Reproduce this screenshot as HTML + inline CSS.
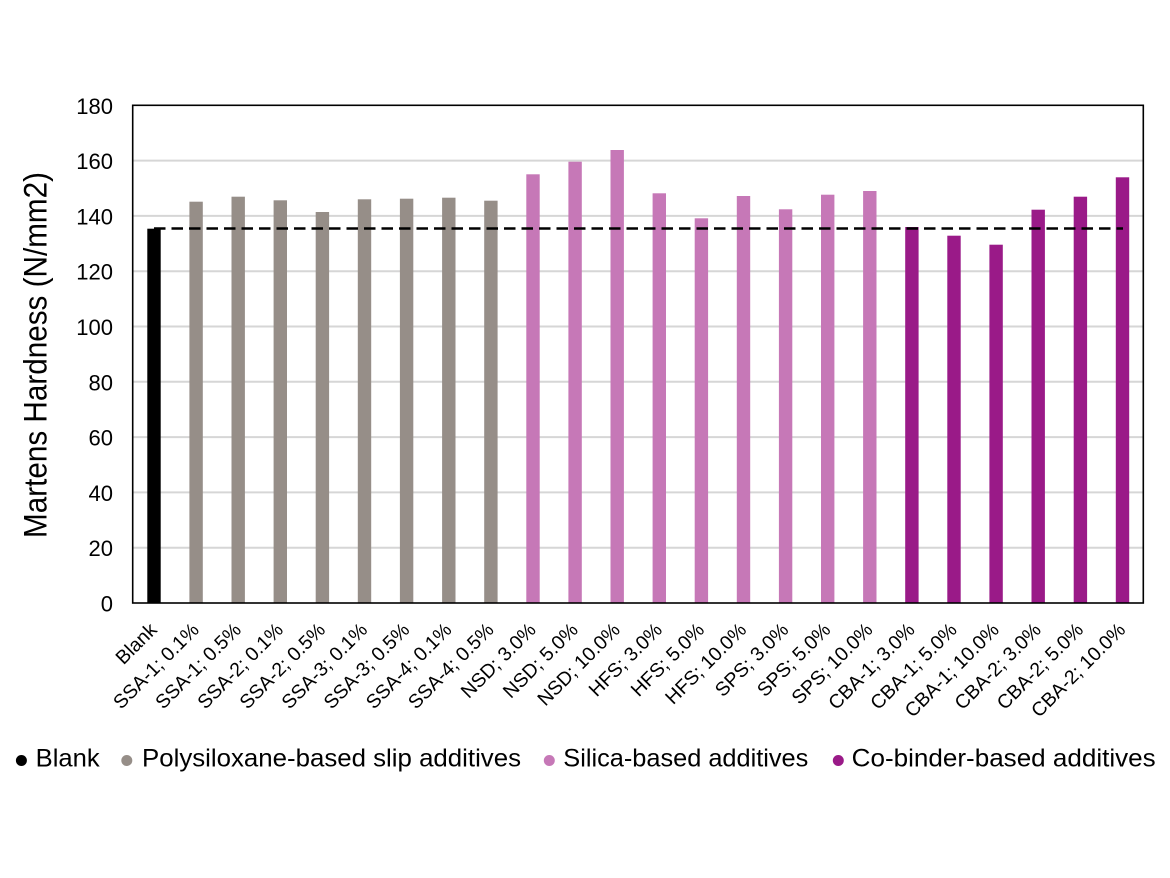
<!DOCTYPE html>
<html><head><meta charset="utf-8"><style>
html,body{margin:0;padding:0;background:#fff;}
svg{display:block;}
text{font-family:"Liberation Sans",Arial,sans-serif;fill:#000;}
</style></head><body>
<svg width="1170" height="878" viewBox="0 0 1170 878" xmlns="http://www.w3.org/2000/svg">
<rect width="1170" height="878" fill="#fff"/>
<!-- gridlines -->
<g stroke="#d6d6d6" stroke-width="2">
<line x1="133" y1="547.7" x2="1143" y2="547.7"/>
<line x1="133" y1="492.4" x2="1143" y2="492.4"/>
<line x1="133" y1="437.1" x2="1143" y2="437.1"/>
<line x1="133" y1="381.8" x2="1143" y2="381.8"/>
<line x1="133" y1="326.5" x2="1143" y2="326.5"/>
<line x1="133" y1="271.2" x2="1143" y2="271.2"/>
<line x1="133" y1="215.9" x2="1143" y2="215.9"/>
<line x1="133" y1="160.6" x2="1143" y2="160.6"/>
</g>
<!-- bars -->
<g>
<rect x="147.3" y="228.7" width="13.4" height="374.3" fill="#000"/>
<g fill="#968e88">
<rect x="189.4" y="201.7" width="13.4" height="401.3"/>
<rect x="231.5" y="196.7" width="13.4" height="406.3"/>
<rect x="273.6" y="200.3" width="13.4" height="402.7"/>
<rect x="315.7" y="212" width="13.4" height="391"/>
<rect x="357.8" y="199.3" width="13.4" height="403.7"/>
<rect x="399.9" y="198.7" width="13.4" height="404.3"/>
<rect x="442.1" y="197.7" width="13.4" height="405.3"/>
<rect x="484.2" y="200.7" width="13.4" height="402.3"/>
</g>
<g fill="#c678b7">
<rect x="526.3" y="174.3" width="13.4" height="428.7"/>
<rect x="568.4" y="161.7" width="13.4" height="441.3"/>
<rect x="610.5" y="150" width="13.4" height="453"/>
<rect x="652.6" y="193.3" width="13.4" height="409.7"/>
<rect x="694.7" y="218.3" width="13.4" height="384.7"/>
<rect x="736.8" y="196" width="13.4" height="407"/>
<rect x="778.9" y="209.3" width="13.4" height="393.7"/>
<rect x="821" y="194.7" width="13.4" height="408.3"/>
<rect x="863.1" y="191" width="13.4" height="412"/>
</g>
<g fill="#9a1a88">
<rect x="905.2" y="227" width="13.4" height="376"/>
<rect x="947.3" y="235.7" width="13.4" height="367.3"/>
<rect x="989.4" y="244.7" width="13.4" height="358.3"/>
<rect x="1031.5" y="209.7" width="13.4" height="393.3"/>
<rect x="1073.7" y="196.7" width="13.4" height="406.3"/>
<rect x="1115.8" y="177.3" width="13.4" height="425.7"/>
</g>
</g>
<!-- dashed reference line -->
<line x1="154" y1="228.5" x2="1123" y2="228.5" stroke="#000" stroke-width="2.6" stroke-dasharray="11.5 6"/>
<!-- plot border -->
<rect x="132.7" y="105.3" width="1010.6" height="497.7" fill="none" stroke="#000" stroke-width="1.6"/>
<!-- y tick labels -->
<g font-size="22" text-anchor="end">
<text x="113" y="611.5">0</text>
<text x="113" y="556.2">20</text>
<text x="113" y="500.9">40</text>
<text x="113" y="445.6">60</text>
<text x="113" y="390.3">80</text>
<text x="113" y="335">100</text>
<text x="113" y="279.7">120</text>
<text x="113" y="224.4">140</text>
<text x="113" y="169.1">160</text>
<text x="113" y="113.8">180</text>
</g>
<!-- y title -->
<text transform="translate(46.5,355) rotate(-90)" text-anchor="middle" font-size="32" textLength="366" lengthAdjust="spacingAndGlyphs">Martens Hardness (N/mm2)</text>
<!-- x labels -->
<g font-size="19.5" text-anchor="end">
<text transform="translate(158,631) rotate(-45)">Blank</text>
<text transform="translate(200.1,631) rotate(-45)">SSA-1; 0.1%</text>
<text transform="translate(242.2,631) rotate(-45)">SSA-1; 0.5%</text>
<text transform="translate(284.3,631) rotate(-45)">SSA-2; 0.1%</text>
<text transform="translate(326.4,631) rotate(-45)">SSA-2; 0.5%</text>
<text transform="translate(368.5,631) rotate(-45)">SSA-3; 0.1%</text>
<text transform="translate(410.6,631) rotate(-45)">SSA-3; 0.5%</text>
<text transform="translate(452.8,631) rotate(-45)">SSA-4; 0.1%</text>
<text transform="translate(494.9,631) rotate(-45)">SSA-4; 0.5%</text>
<text transform="translate(537,631) rotate(-45)">NSD; 3.0%</text>
<text transform="translate(579.1,631) rotate(-45)">NSD; 5.0%</text>
<text transform="translate(621.2,631) rotate(-45)">NSD; 10.0%</text>
<text transform="translate(663.3,631) rotate(-45)">HFS; 3.0%</text>
<text transform="translate(705.4,631) rotate(-45)">HFS; 5.0%</text>
<text transform="translate(747.5,631) rotate(-45)">HFS; 10.0%</text>
<text transform="translate(789.6,631) rotate(-45)">SPS; 3.0%</text>
<text transform="translate(831.7,631) rotate(-45)">SPS; 5.0%</text>
<text transform="translate(873.8,631) rotate(-45)">SPS; 10.0%</text>
<text transform="translate(915.9,631) rotate(-45)">CBA-1; 3.0%</text>
<text transform="translate(958,631) rotate(-45)">CBA-1; 5.0%</text>
<text transform="translate(1000.1,631) rotate(-45)">CBA-1; 10.0%</text>
<text transform="translate(1042.2,631) rotate(-45)">CBA-2; 3.0%</text>
<text transform="translate(1084.4,631) rotate(-45)">CBA-2; 5.0%</text>
<text transform="translate(1126.5,631) rotate(-45)">CBA-2; 10.0%</text>
</g>
<!-- legend -->
<g font-size="25">
<circle cx="21.4" cy="760.5" r="5.5" fill="#000"/>
<text x="35.7" y="766.5" textLength="64" lengthAdjust="spacingAndGlyphs">Blank</text>
<circle cx="126.8" cy="760.5" r="5.5" fill="#968e88"/>
<text x="142" y="766.5" textLength="379" lengthAdjust="spacingAndGlyphs">Polysiloxane-based slip additives</text>
<circle cx="549.3" cy="760.5" r="5.5" fill="#c678b7"/>
<text x="563.3" y="766.5" textLength="245" lengthAdjust="spacingAndGlyphs">Silica-based additives</text>
<circle cx="838.3" cy="760.5" r="5.5" fill="#9a1a88"/>
<text x="851.7" y="766.5" textLength="304" lengthAdjust="spacingAndGlyphs">Co-binder-based additives</text>
</g>
</svg>
</body></html>
